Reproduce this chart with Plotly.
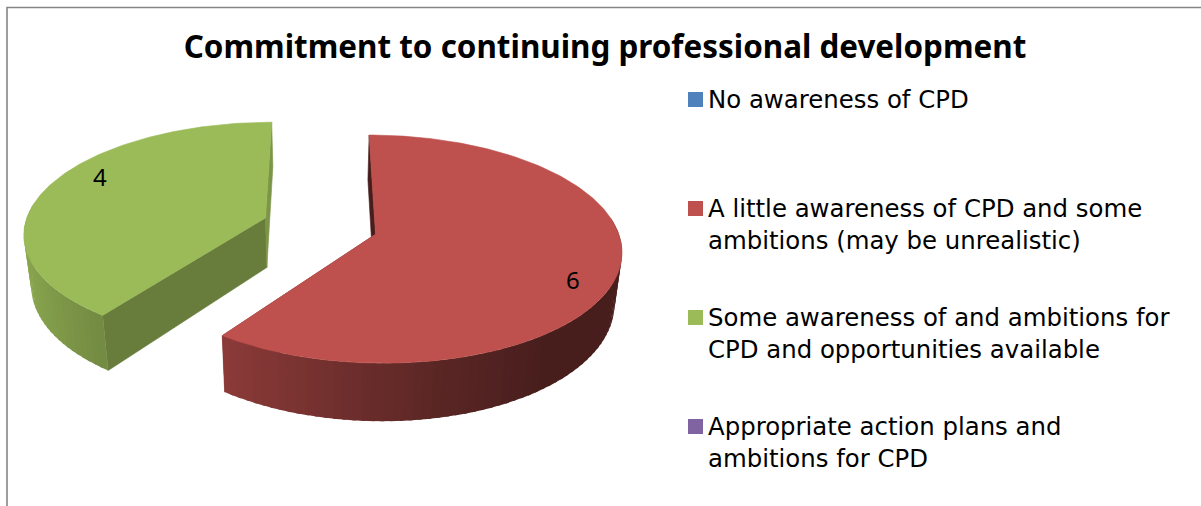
import numpy as np
import plotly.graph_objects as go

# Survey responses
title_text = "Commitment to continuing professional development"
categories = [
    "No awareness of CPD",
    "A little awareness of CPD and some<br>ambitions (may be unrealistic)",
    "Some awareness of and ambitions for<br>CPD and opportunities available",
    "Appropriate action plans and<br>ambitions for CPD",
]
values = [0, 6, 4, 0]
colors = ["#4F81BD", "#BE504D", "#9BBB59", "#8064A2"]

# Look of the extruded, exploded pie (canvas pixels)
WIDTH, HEIGHT = 1201, 506
CX, CY = 320, 226          # vanishing axis / disc centre on the canvas
RX, RY = 241, 110          # disc radii before perspective
PERSPECTIVE = 0.129        # how much the far edge shrinks
THICKNESS = 50             # extrusion height
BOTTOM_SCALE = 0.975       # lower rim pulls toward the centre
EXPLODE = 0.24             # slice offset, as a share of the radius
STEP_DEG = 2               # angular size of one shaded side facet
LABEL_RADIUS, LABEL_TURN = 0.845, 9.5
LABEL_NUDGE_X = 2
FONT = "Noto Sans"
LEGEND_FONT = "DejaVu Sans"

# Darkening of the radial cut faces by where they sit on the disc
CUT_DARK_AT_TOP = 0.38
CUT_LIT_AT_TOP = 0.8
CUT_NEAR = 0.67


def project(u, v):
    """Disc coordinates (u right, v far) to the upper-face canvas position."""
    w = 1 + PERSPECTIVE * v
    return CX + RX * u / w, CY - RY * v / w


def drop(x, y, v):
    """Upper-face canvas position to the matching lower-face position."""
    w = 1 + PERSPECTIVE * v
    return CX + (x - CX) * BOTTOM_SCALE, y + THICKNESS / w


def shade(hex_color, factor):
    r, g, b = (int(hex_color[i:i + 2], 16) for i in (1, 3, 5))
    return f"rgb({r * factor:.0f},{g * factor:.0f},{b * factor:.0f})"


def side_factor(u):
    # The side wall darkens from left to right
    return float(np.interp(u, [-1.0, -0.6, 0.2, 0.6, 1.0], [0.9, 0.74, 0.47, 0.38, 0.38]))


def polygon(xs, ys, color, edge=0.6):
    return go.Scatter(
        x=list(xs) + [xs[0]], y=list(ys) + [ys[0]], mode="lines", fill="toself",
        fillcolor=color, line=dict(color=color, width=edge),
        hoverinfo="skip", showlegend=False,
    )


fig = go.Figure()
annotations = []
total = sum(values)
cumulative = 0

for value, color in zip(values, colors):
    if value == 0:
        continue
    start = 360 * cumulative / total
    end = 360 * (cumulative + value) / total
    cumulative += value
    mid = np.radians((start + end) / 2)
    ou, ov = EXPLODE * np.sin(mid), EXPLODE * np.cos(mid)

    def rim(deg):
        t = np.radians(deg)
        return ou + np.sin(t), ov + np.cos(t)

    # Radial cut faces sit behind everything else of the slice
    ax, ay = project(ou, ov)
    abx, aby = drop(ax, ay, ov)
    for deg in (start, end):
        facing = CUT_DARK_AT_TOP if deg == 0 else CUT_LIT_AT_TOP if deg == 360 else CUT_NEAR
        u, v = rim(deg)
        x, y = project(u, v)
        bx, by = drop(x, y, v)
        fig.add_trace(polygon([ax, x, bx, abx], [ay, y, by, aby], shade(color, facing)))

    # Outer wall, front half only; each facet runs a little under the next one
    edges = np.arange(start, end + STEP_DEG / 2, STEP_DEG)
    facets = sorted(zip(edges[:-1], edges[1:]), key=lambda e: -np.cos(np.radians((e[0] + e[1]) / 2)))
    for a, b in facets:
        if np.cos(np.radians((a + b) / 2)) > 0.15:
            continue
        ua, va = rim(a - 0.4 if a > start else a)
        ub, vb = rim(b + 0.4 if b < end else b)
        xa, ya = project(ua, va)
        xb, yb = project(ub, vb)
        xa2, ya2 = drop(xa, ya, va)
        xb2, yb2 = drop(xb, yb, vb)
        tilt = np.sin(np.radians((a + b) / 2))
        fig.add_trace(polygon([xa, xb, xb2, xa2], [ya, yb, yb2, ya2],
                              shade(color, side_factor(tilt)), edge=0))

    # Upper face
    ts = np.arange(start, end + 0.5, 1.0)
    us, vs = rim(ts)
    fx, fy = project(us, vs)
    fig.add_trace(polygon([ax, *fx], [ay, *fy], color))

    # Value label on the upper face
    lt = mid + np.radians(LABEL_TURN)
    lx, ly = project(ou + LABEL_RADIUS * np.sin(lt), ov + LABEL_RADIUS * np.cos(lt))
    annotations.append(dict(x=lx, y=ly - 1, xref="x", yref="y", text=str(value), showarrow=False,
                            xshift=LABEL_NUDGE_X, font=dict(family=FONT, size=24, color="#000000")))

# Legend column: swatch plus wrapped text, one row per category
LEGEND_X, LEGEND_TOP, LEGEND_STEP, SWATCH = 688, 99.5, 109, 15
shapes = []
for i, (name, color) in enumerate(zip(categories, colors)):
    row_y = LEGEND_TOP + i * LEGEND_STEP
    shapes.append(dict(type="rect", xref="x", yref="y", x0=LEGEND_X, x1=LEGEND_X + SWATCH,
                       y0=row_y - SWATCH / 2, y1=row_y + SWATCH / 2,
                       fillcolor=color, line=dict(width=0), layer="above"))
    annotations.append(dict(x=LEGEND_X + 18, y=row_y - 16.5, xref="x", yref="y", text=name,
                            showarrow=False, xanchor="left", yanchor="top", align="left",
                            font=dict(family=LEGEND_FONT, size=24.4, color="#000000")))

# Chart frame, cut off by the canvas on the right and at the bottom
shapes.append(dict(type="path", xref="x", yref="y",
                   path=f"M 7 {HEIGHT} L 7 7.5 L {WIDTH} 7.5",
                   line=dict(color="#868686", width=1.6), layer="above"))

fig.update_layout(
    width=WIDTH, height=HEIGHT, margin=dict(l=0, r=0, t=0, b=0),
    paper_bgcolor="#FFFFFF", plot_bgcolor="#FFFFFF", showlegend=False,
    title=dict(text=f"<b>{title_text}</b>", x=605 / WIDTH, xanchor="center", xref="paper",
               y=1 - 47 / HEIGHT, yanchor="middle", yref="container",
               font=dict(family=FONT, size=31.4, color="#000000")),
    xaxis=dict(range=[0, WIDTH], visible=False, fixedrange=True),
    yaxis=dict(range=[HEIGHT, 0], visible=False, fixedrange=True),
    shapes=shapes, annotations=annotations,
)

fig.write_html("out.html", config={"displayModeBar": False})
